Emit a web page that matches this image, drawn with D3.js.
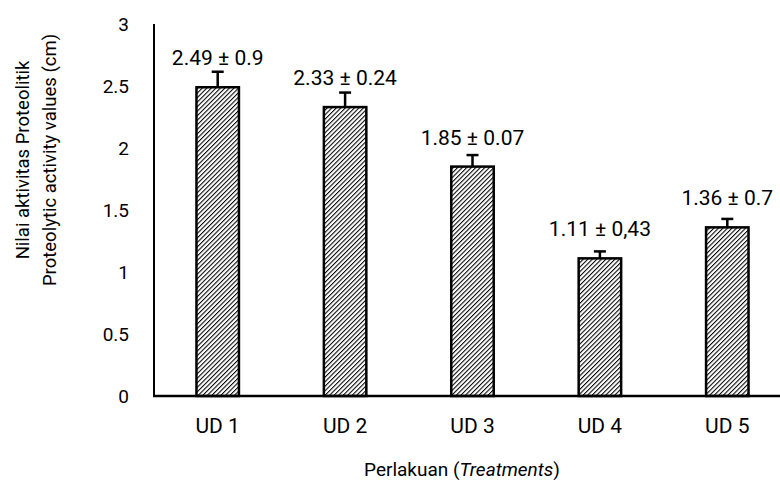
<!DOCTYPE html>
<html>
<head>
<meta charset="utf-8">
<script src="https://cdn.jsdelivr.net/npm/d3@7"></script>
<style>
  html, body { margin: 0; padding: 0; background: #fff; }
  svg { display: block; }
  text { font-family: Roboto, "Liberation Sans", sans-serif; font-weight: 400; fill: #000; }
</style>
</head>
<body>
<svg id="chart" width="780" height="485"></svg>
<script>
// Treatments and their mean proteolytic activity (cm)
const categories = ["UD 1", "UD 2", "UD 3", "UD 4", "UD 5"];
const means = [2.49, 2.33, 1.85, 1.11, 1.36];
// Drawn (upper) error bar lengths
const errors = [0.125, 0.117, 0.093, 0.056, 0.068];
// Annotation text shown above each bar
const labels = ["2.49 \u00b1 0.9", "2.33 \u00b1 0.24", "1.85 \u00b1 0.07", "1.11 \u00b1 0,43", "1.36 \u00b1 0.7"];
const yTicks = [0, 0.5, 1, 1.5, 2, 2.5, 3];

(function () {
const svg = d3.select("#chart");
const plotLeft = 154, plotRight = 791, plotTop = 24, plotBottom = 396;

const x = d3.scaleBand().domain(categories).range([plotLeft, plotRight]).paddingInner(2 / 3).paddingOuter(1 / 3);
const y = d3.scaleLinear().domain([0, 3]).range([plotBottom, plotTop]);

// Diagonal hatch fill for the bars
const defs = svg.append("defs");
const pat = defs.append("pattern")
  .attr("id", "hatch")
  .attr("patternUnits", "userSpaceOnUse")
  .attr("width", 3.2).attr("height", 3.2)
  .attr("patternTransform", "rotate(45)");
pat.append("rect").attr("width", 3.2).attr("height", 3.2).attr("fill", "#fff");
pat.append("line").attr("x1", 0).attr("y1", 0).attr("x2", 0).attr("y2", 3.2)
  .attr("stroke", "#000").attr("stroke-width", 2.1);

// Y tick labels (no tick marks)
const yAxis = d3.axisLeft(y).tickValues(yTicks).tickSize(0).tickPadding(25)
  .tickFormat(d => String(d));
const gy = svg.append("g").attr("transform", `translate(${plotLeft},0)`).call(yAxis);
gy.select(".domain").remove();
gy.selectAll("text").attr("font-size", 19).attr("font-family", "Roboto").attr("font-weight", 400);

// Y axis line
svg.append("line").attr("x1", plotLeft).attr("x2", plotLeft).attr("y1", plotTop).attr("y2", plotBottom)
  .attr("stroke", "#000").attr("stroke-width", 2);

// Bars
svg.selectAll("rect.bar").data(categories).join("rect")
  .attr("class", "bar")
  .attr("x", d => x(d))
  .attr("y", (d, i) => y(means[i]))
  .attr("width", x.bandwidth())
  .attr("height", (d, i) => y(0) - y(means[i]))
  .attr("fill", "url(#hatch)")
  .attr("stroke", "#000")
  .attr("stroke-width", 2.5);

// X axis line
svg.append("line").attr("x1", plotLeft - 1).attr("x2", 780).attr("y1", plotBottom).attr("y2", plotBottom)
  .attr("stroke", "#000").attr("stroke-width", 2.5);

// Error bars (upper only)
const eb = svg.selectAll("g.err").data(categories).join("g").attr("class", "err");
eb.append("line")
  .attr("x1", d => x(d) + x.bandwidth() / 2).attr("x2", d => x(d) + x.bandwidth() / 2)
  .attr("y1", (d, i) => y(means[i])).attr("y2", (d, i) => y(means[i] + errors[i]))
  .attr("stroke", "#000").attr("stroke-width", 2.5);
eb.append("line")
  .attr("x1", d => x(d) + x.bandwidth() / 2 - 6).attr("x2", d => x(d) + x.bandwidth() / 2 + 6)
  .attr("y1", (d, i) => y(means[i] + errors[i])).attr("y2", (d, i) => y(means[i] + errors[i]))
  .attr("stroke", "#000").attr("stroke-width", 2.5);

// Value labels
svg.selectAll("text.val").data(categories).join("text")
  .attr("class", "val")
  .attr("x", d => x(d) + x.bandwidth() / 2)
  .attr("y", (d, i) => y(means[i]) - 22)
  .attr("text-anchor", "middle")
  .attr("font-size", 21)
  .text((d, i) => labels[i]);

// Category labels
svg.selectAll("text.cat").data(categories).join("text")
  .attr("class", "cat")
  .attr("x", d => x(d) + x.bandwidth() / 2)
  .attr("y", 433)
  .attr("text-anchor", "middle")
  .attr("font-size", 21)
  .text(d => d);

// Axis titles
const xt = svg.append("text").attr("x", 462).attr("y", 476).attr("text-anchor", "middle").attr("font-size", 19);
xt.append("tspan").text("Perlakuan (");
xt.append("tspan").attr("font-style", "italic").text("Treatments");
xt.append("tspan").text(")");

const yt = svg.append("text").attr("transform", "translate(0,160) rotate(-90)")
  .attr("text-anchor", "middle").attr("font-size", 18.5);
yt.append("tspan").attr("x", 0).attr("y", 29).text("Nilai aktivitas Proteolitik");
yt.append("tspan").attr("x", 0).attr("y", 56).text("Proteolytic activity values (cm)");
})();
</script>
</body>
</html>
